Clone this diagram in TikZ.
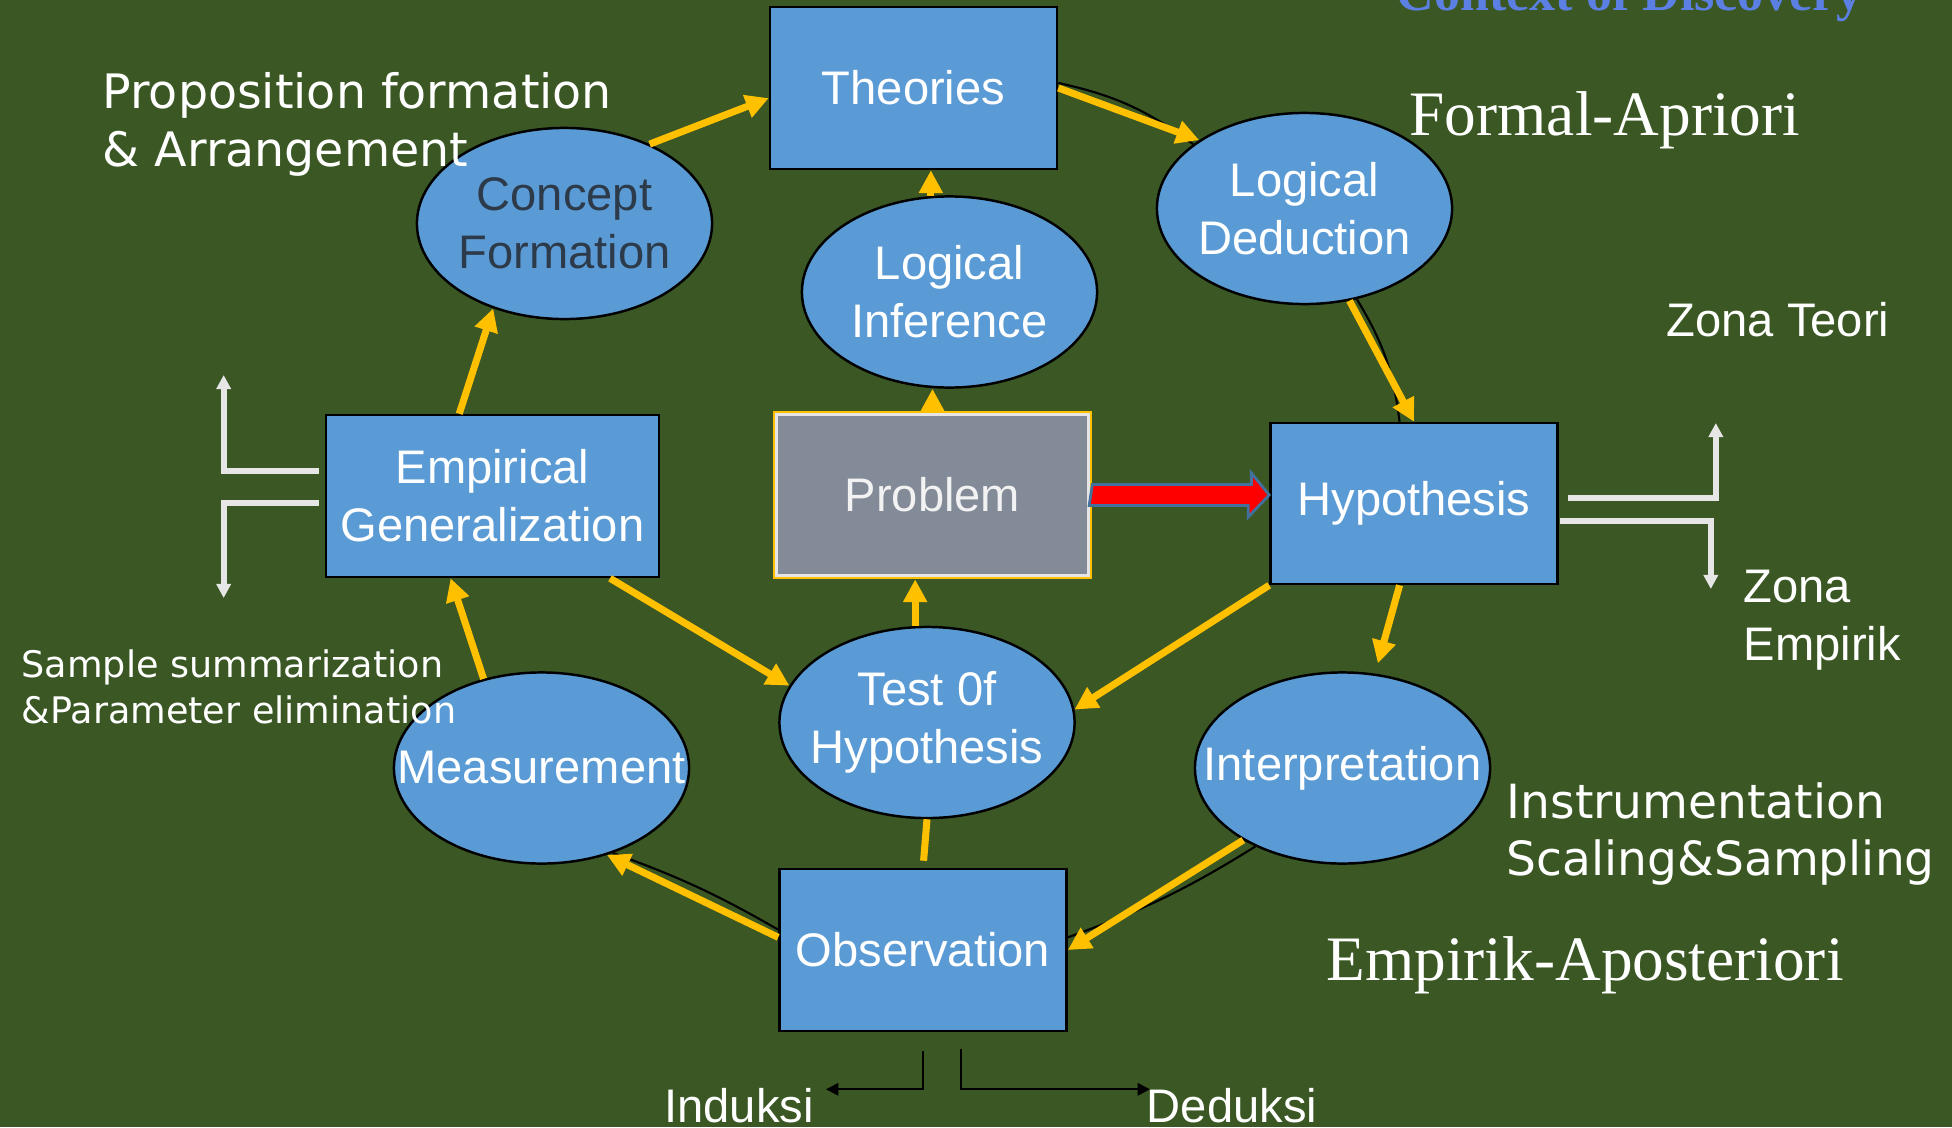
\documentclass[tikz,border=0pt]{standalone}
\usepackage{fontspec}
\setmainfont{Liberation Sans}
\newfontfamily\notefont{DejaVu Sans}
\newfontfamily\romanfont{Liberation Serif}
\usetikzlibrary{shapes.geometric,arrows.meta}

\definecolor{slidegreen}{RGB}{58,87,36}
\definecolor{nodeblue}{RGB}{91,155,213}
\definecolor{arrowgold}{RGB}{255,192,0}
\definecolor{probgray}{RGB}{131,139,153}
\definecolor{zonewhite}{RGB}{230,230,230}
\definecolor{discblue}{RGB}{91,127,227}
\definecolor{conceptink}{RGB}{45,58,74}
\definecolor{arrowrim}{RGB}{65,113,156}

\begin{document}
\begin{tikzpicture}
    [x=0.01cm, y=-0.01cm,
    >={Triangle[length=6.5pt,width=6.5pt]},
    font=\fontsize{13.4}{16.5}\selectfont,
    box/.style={
      rectangle,
      minimum width=2.87cm,
      minimum height=1.62cm,
      align=center,
      text=white,
      draw=black,
      line width=0.7pt,
      fill=nodeblue},
    oval/.style={
      ellipse,
      minimum width=2.95cm,
      minimum height=1.91cm,
      inner xsep=-1cm,
      inner ysep=0pt,
      align=center,
      text=white,
      draw=black,
      line width=0.7pt,
      fill=nodeblue},
    flow/.style={->, color=arrowgold, line width=2pt},
    ghost/.style={draw=black, line width=0.6pt},
    zone/.style={-{Triangle[length=4pt,width=4pt]}, color=zonewhite, line width=1.7pt},
    split/.style={-{Triangle[length=3.5pt,width=3.5pt]}, draw=black, line width=0.6pt},
    bigarrow/.style={fill=red, draw=arrowrim, line width=0.8pt},
    note/.style={text=white, align=left, inner sep=0pt}
    ]
    \fill[slidegreen] (0,0) rectangle (1952,1127);
    \useasboundingbox (0,0) rectangle (1952,1127);

    % the cycle
    \node (theo) [box] at (913.5,88) {Theories};
    \node (ded) [oval] at (1304.5,208.5) {Logical\\Deduction};
    \node (inf) [oval] at (949.5,292) {Logical\\Inference};
    \node (con) [oval, text=conceptink] at (564.5,223.5) {Concept\\Formation};
    \node (prob) [box, minimum width=3.17cm, minimum height=1.66cm, fill=probgray, draw=arrowgold, text=white!90!gray] at (932.5,495) {Problem};
    \node (hyp) [box, minimum height=1.61cm] at (1414,503.5) {Hypothesis};
    \node (emp) [box, minimum width=3.33cm] at (492.5,496) {Empirical\\Generalization};
    \node (meas) [oval] at (541.5,768) {Measurement};
    \node (test) [oval] at (927,722.5) {Test 0f\\Hypothesis};
    \node (int) [oval] at (1342.5,768) {Interpretation};
    \node (obs) [box] at (923,950) {Observation};
    \draw[white!80!gray, line width=0.8pt] ([shift={(4,4)}]prob.north west) rectangle ([shift={(-4,-4)}]prob.south east);

    \path[ghost]
      (theo.2) edge[bend left=12] (ded.150)
      (ded.-60) edge[bend left=12] (hyp.100)
      (int.222) edge[bend left=6] (obs.5)
      (obs.172) edge[bend right=5] (meas.-50);

    \path[flow]
      (con.43) edge (theo.184)
      (theo.east) edge (ded.147)
      (ded.-64) edge (hyp.north)
      (inf.101) edge (inf.101 |- theo.south)
      (prob.north) edge (prob.north |- inf.south)
      (test.97) edge (test.97 |- prob.south)
      (emp.-35) edge (test.165)
      (hyp.south west) edge (test.5)
      (hyp.-100) edge[shorten >=3pt] (int.71)
      (int.216) edge (obs.east)
      (obs.175) edge (meas.-53)
      (meas.123) edge (emp.-117)
      (emp.112) edge (con.-130);
    \draw[color=arrowgold, line width=2pt, shorten <=2pt] (obs.north) -- (test.south);

    \filldraw[bigarrow] (prob.east) ++(0,-10.5) -- ++(159,0) -- ++(0,-11.5) -- (prob.east -| hyp.west)
      -- ++(-21,22) -- ++(0,-11.5) -- ++(-159,0) -- cycle;

    % zones
    \draw[zone] (emp.west) ++(-6,-25) -| ++(-95,-96);
    \draw[zone] (emp.west) ++(-6,7) -| ++(-95,95);
    \draw[zone] (hyp.east) ++(9,-5.5) -| ++(148,-75);
    \draw[zone] (hyp.east) ++(1,17.5) -| ++(151,68);
    \draw[split] (obs.south) ++(0,19) |- ++(-97,38);
    \draw[split] (obs.south) ++(38,17) |- ++(189,40);

    % labels
    \node (prop) [note, font=\notefont\fontsize{13.5}{16.5}\selectfont, anchor=west] at (102,124) {Proposition formation\\\& Arrangement};
    \node (summ) [note, font=\notefont\fontsize{10.4}{13}\selectfont, anchor=west] at (21,687) {Sample summarization\\\&Parameter elimination};
    \node (instr) [note, font=\notefont\fontsize{13.4}{16.3}\selectfont, anchor=west] at (1506,834) {Instrumentation\\Scaling\&Sampling};
    \node (teori) [note, anchor=west] at (1666,320) {Zona Teori};
    \node (empz) [note, anchor=west] at (1743,620) {Zona\\Empirik};
    \node (apri) [note, font=\romanfont\fontsize{18}{21}\selectfont, anchor=base west] at (1409,135) {Formal-Apriori};
    \node (apos) [note, font=\romanfont\fontsize{18}{21}\selectfont, anchor=base west] at (1326,980) {Empirik-Aposteriori};
    \node (disc) [note, text=discblue, font=\romanfont\bfseries\fontsize{14.8}{17}\selectfont, anchor=base west] at (1396,10) {Context of Discovery};
    \node (ind) [note, anchor=base] at (739,1122) {Induksi};
    \node (dedk) [note, anchor=base] at (1232,1122) {Deduksi};
\end{tikzpicture}
\end{document}
